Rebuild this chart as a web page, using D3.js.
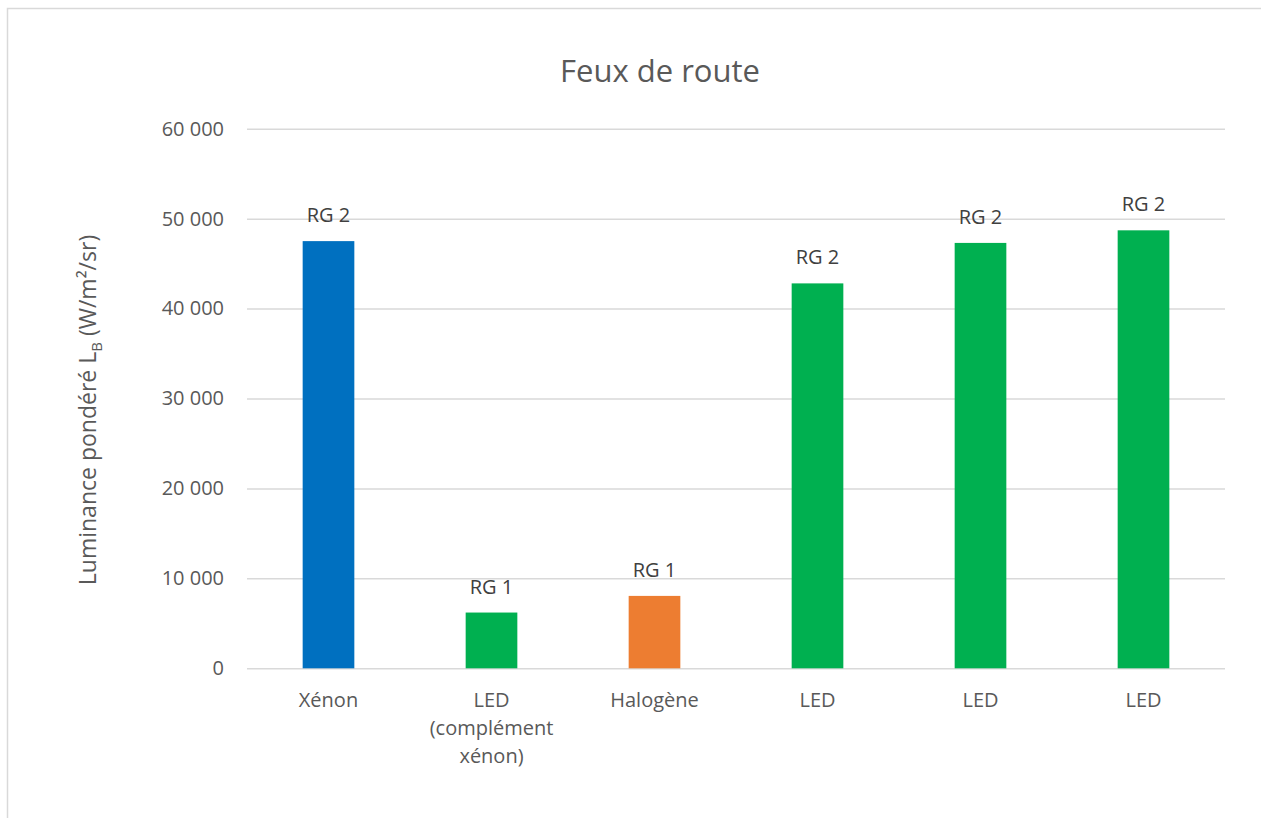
<!DOCTYPE html>
<html>
<head>
<meta charset="utf-8">
<script src="https://cdn.jsdelivr.net/npm/d3@7"></script>
<style>
  html, body { margin: 0; padding: 0; background: #fff; }
  svg { display: block; font-family: "Open Sans", sans-serif; }
</style>
</head>
<body>
<svg id="chart" width="1261" height="818"></svg>
<script>
// Chart data
const categories = ["Xénon", "LED (complément xénon)", "Halogène", "LED", "LED", "LED"]
const values = [47500, 6200, 8050, 42800, 47300, 48700]
const dataLabels = ["RG 2", "RG 1", "RG 1", "RG 2", "RG 2", "RG 2"]
const barColors = ["#0070C0", "#00B050", "#ED7D31", "#00B050", "#00B050", "#00B050"]
const yTicks = [0, 10000, 20000, 30000, 40000, 50000, 60000]

const svg = d3.select("#chart")

// Outer chart frame (runs past the window on right / bottom)
svg.append("rect")
    .attr("x", 7.5).attr("y", 8.5)
    .attr("width", 1400).attr("height", 1000)
    .attr("fill", "none")
    .attr("stroke", "#D9D9D9")
    .attr("stroke-width", 1.5)

const plot = { left: 247, right: 1225, top: 128.7, bottom: 668.3 }

const y = d3.scaleLinear()
    .domain([0, 60000])
    .range([plot.bottom, plot.top])

const x = d3.scaleBand()
    .domain(d3.range(categories.length))
    .range([plot.left, plot.right])
    .paddingInner(0.683)
    .paddingOuter(0.683 / 2)

const fmt = v => d3.format(",")(v).replace(/,/g, " ")

// Gridlines + tick labels
const yAxis = d3.axisLeft(y)
    .tickValues(yTicks)
    .tickSize(-(plot.right - plot.left))
    .tickPadding(23)
    .tickFormat(fmt)

const gy = svg.append("g")
    .attr("transform", `translate(${plot.left},0)`)
    .call(yAxis)
gy.select(".domain").remove()
gy.selectAll(".tick line").attr("stroke", "#D9D9D9").attr("stroke-width", 1.5)
gy.selectAll(".tick text")
    .attr("fill", "#595959")
    .attr("font-size", 20)
    .attr("font-family", "Open Sans, sans-serif")

// Bars
svg.selectAll(".bar")
    .data(values)
    .join("rect")
    .attr("class", "bar")
    .attr("x", (d, i) => x(i))
    .attr("width", x.bandwidth())
    .attr("y", d => y(d))
    .attr("height", d => y(0) - y(d))
    .attr("fill", (d, i) => barColors[i])

// Data labels above bars
svg.selectAll(".dlabel")
    .data(values)
    .join("text")
    .attr("class", "dlabel")
    .attr("x", (d, i) => x(i) + x.bandwidth() / 2)
    .attr("y", d => y(d) - 19)
    .attr("text-anchor", "middle")
    .attr("font-size", 20)
    .attr("fill", "#404040")
    .text((d, i) => dataLabels[i])

// Category labels, wrapped to the band step
const step = x.step()
categories.forEach((cat, i) => {
    const t = svg.append("text")
        .attr("text-anchor", "middle")
        .attr("font-size", 20)
        .attr("fill", "#595959")
    const cx = x(i) + x.bandwidth() / 2
    const words = cat.split(" ")
    let lines = []
    let line = []
    const probe = t.append("tspan")
    words.forEach(w => {
        line.push(w)
        probe.text(line.join(" "))
        if (probe.node().getComputedTextLength() > step - 20 && line.length > 1) {
            line.pop()
            lines.push(line.join(" "))
            line = [w]
        }
    })
    lines.push(line.join(" "))
    probe.remove()
    lines.forEach((l, j) => {
        t.append("tspan")
            .attr("x", cx)
            .attr("y", 706.5 + j * 28)
            .text(l)
    })
})

// Title
svg.append("text")
    .attr("x", 660)
    .attr("y", 81.5)
    .attr("text-anchor", "middle")
    .attr("font-size", 31)
    .attr("fill", "#595959")
    .text("Feux de route")

// Y axis title
const yt = svg.append("text")
    .attr("transform", `translate(96,410) rotate(-90)`)
    .attr("text-anchor", "middle")
    .attr("font-size", 23)
    .attr("fill", "#595959")
yt.append("tspan").text("Luminance pondéré L")
yt.append("tspan").attr("font-size", 15).attr("dy", 6).text("B")
yt.append("tspan").attr("dy", -6).text(" (W/m²/sr)")
</script>
</body>
</html>
